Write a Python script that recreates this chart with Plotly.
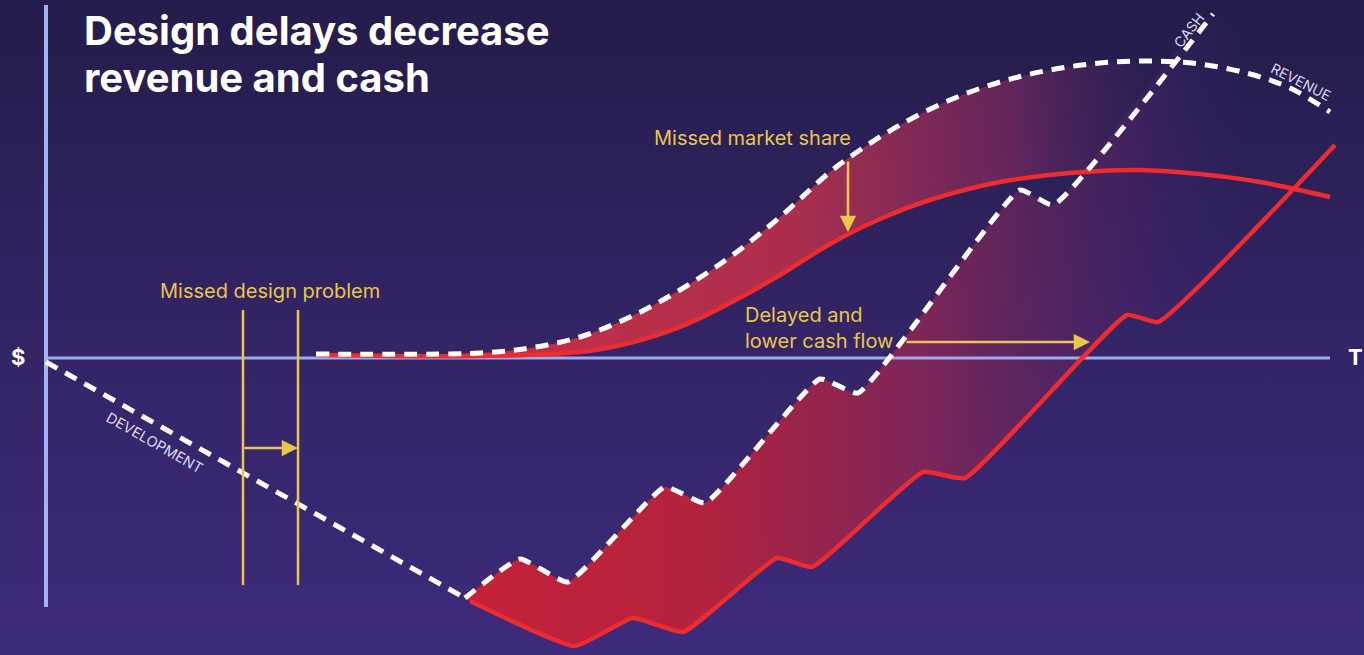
import plotly.graph_objects as go

# Coordinate system: t = time from origin, v = $ value (positive up)
dev_t = [0, 419]
dev_v = [-4, -240]

cash_t = [419, 474, 522, 619, 659, 774, 812, 974, 1007, 1167]
cash_v = [-240, -201, -224, -129, -145, -21, -35, 168, 153, 344]

cash_late_t = [424, 529, 587, 637, 731, 766, 877, 919, 1081, 1112, 1289]
cash_late_v = [-243, -288, -260, -274, -200, -209, -114, -120, 43, 36, 213]

rev_t = [270, 434, 484, 534, 584, 634, 684, 734, 784, 814, 854, 904, 954, 1004, 1054, 1104, 1154, 1204, 1244, 1284]
rev_v = [4, 5, 10, 21, 41, 68, 101, 141, 186, 208, 233, 258, 276, 288, 295, 297, 294, 284, 270, 246]

rev_late_t = [270, 434, 534, 584, 634, 684, 734, 784, 834, 884, 954, 1037, 1094, 1154, 1214, 1284]
rev_late_v = [3, 2, 6, 15, 31, 55, 83, 114, 139, 158, 176, 186, 188, 184, 176, 161]

X_RANGE = [-46, 1318]
Y_RANGE = [-297, 358]

WHITE = "#ffffff"
RED = "#ee2b2e"
YELLOW = "#e9c64d"
AXIS = "#a2b2f6"
DASH = "13px,9px"

fig = go.Figure()

# background gradient
fig.add_trace(go.Scatter(
    x=[X_RANGE[0] - 5, X_RANGE[1] + 5, X_RANGE[1] + 5, X_RANGE[0] - 5],
    y=[Y_RANGE[1] + 5, Y_RANGE[1] + 5, Y_RANGE[0] - 5, Y_RANGE[0] - 5],
    fill="toself", mode="none", hoverinfo="skip",
    fillgradient=dict(type="vertical", start=Y_RANGE[0], stop=Y_RANGE[1],
                      colorscale=[[0, "#3e2a7b"], [0.5, "#332465"], [1, "#241c4b"]]),
))

# revenue gap fill
fig.add_trace(go.Scatter(
    x=rev_t + rev_late_t[::-1], y=rev_v + rev_late_v[::-1],
    fill="toself", mode="none", hoverinfo="skip",
    line=dict(shape="spline", smoothing=1),
    fillgradient=dict(type="horizontal", start=434, stop=1140,
                      colorscale=[[0, "rgba(205,48,68,0.95)"], [0.45, "rgba(185,48,75,0.9)"],
                                  [0.75, "rgba(140,42,95,0.6)"], [1, "rgba(60,35,100,0)"]]),
))

# cash gap fill
fig.add_trace(go.Scatter(
    x=cash_t + cash_late_t[::-1], y=cash_v + cash_late_v[::-1],
    fill="toself", mode="none", hoverinfo="skip",
    line=dict(shape="spline", smoothing=0.4),
    fillgradient=dict(type="horizontal", start=419, stop=1200,
                      colorscale=[[0, "rgba(196,34,58,1)"], [0.3, "rgba(180,34,62,1)"],
                                  [0.6, "rgba(130,38,88,0.9)"], [0.85, "rgba(80,35,100,0.5)"],
                                  [1, "rgba(60,35,110,0)"]]),
))

# axes
fig.add_trace(go.Scatter(x=[0, 0], y=[353, -249], mode="lines",
                         line=dict(color=AXIS, width=4), hoverinfo="skip"))
fig.add_trace(go.Scatter(x=[0, 1284], y=[0, 0], mode="lines",
                         line=dict(color=AXIS, width=3), opacity=0.95, hoverinfo="skip"))

# delayed curves (red)
fig.add_trace(go.Scatter(x=rev_late_t, y=rev_late_v, mode="lines", hoverinfo="skip",
                         line=dict(color=RED, width=4.5, shape="spline", smoothing=1)))
fig.add_trace(go.Scatter(x=cash_late_t, y=cash_late_v, mode="lines", hoverinfo="skip",
                         line=dict(color=RED, width=4.5, shape="spline", smoothing=0.4)))

# ideal curves (white dashed)
fig.add_trace(go.Scatter(x=dev_t, y=dev_v, mode="lines", hoverinfo="skip",
                         line=dict(color=WHITE, width=5, dash=DASH)))
fig.add_trace(go.Scatter(x=rev_t, y=rev_v, mode="lines", hoverinfo="skip",
                         line=dict(color=WHITE, width=5, dash=DASH, shape="spline", smoothing=1)))
fig.add_trace(go.Scatter(x=cash_t, y=cash_v, mode="lines", hoverinfo="skip",
                         line=dict(color=WHITE, width=5, dash=DASH, shape="spline", smoothing=0.4)))

# yellow design-problem markers
for tx in (197, 252):
    fig.add_trace(go.Scatter(x=[tx, tx], y=[48, -227], mode="lines", hoverinfo="skip",
                             line=dict(color=YELLOW, width=2.5)))

annotations = []

def arrow(x0, y0, x1, y1):
    annotations.append(dict(x=x1, y=y1, ax=x0, ay=y0, xref="x", yref="y",
                            axref="x", ayref="y", text="", showarrow=True,
                            arrowhead=2, arrowsize=1.3, arrowwidth=2.5,
                            arrowcolor=YELLOW, standoff=0, startstandoff=0))

arrow(197, -90, 252, -90)
arrow(802, 198, 802, 126)
arrow(859, 16, 1044, 16)

def text(x, y, s, size, color, bold=False, angle=0, xanchor="center", align="center"):
    annotations.append(dict(x=x, y=y, xref="x", yref="y", text=(f"<b>{s}</b>" if bold else s),
                            showarrow=False, textangle=angle, xanchor=xanchor, yanchor="middle",
                            align=align, font=dict(family="Inter", size=size, color=color)))

text(36, 328, "Design delays decrease", 40, WHITE, bold=True, xanchor="left")
text(36, 281, "revenue and cash", 40, WHITE, bold=True, xanchor="left")
text(-28, 1, "$", 22, WHITE, bold=True)
text(1309, 1, "T", 22, WHITE, bold=True)
text(224, 67, "Missed design problem", 20, YELLOW)
text(706, 220, "Missed market share", 20, YELLOW)
text(697, 30, "Delayed and<br>lower cash flow", 20, YELLOW, xanchor="left", align="left")
text(109, -84, "DEVELOPMENT", 14.5, "#ddd8f3", angle=29.5)
text(1142, 328, "CASH", 14, "#ddd8f3", angle=-52)
text(1255, 277, "REVENUE", 14, "#ddd8f3", angle=27)

fig.update_layout(
    width=1364, height=655, margin=dict(l=0, r=0, t=0, b=0),
    paper_bgcolor="#2e2260", plot_bgcolor="#2e2260",
    showlegend=False,
    xaxis=dict(range=X_RANGE, visible=False, fixedrange=True),
    yaxis=dict(range=Y_RANGE, visible=False, fixedrange=True),
    annotations=annotations,
)

fig.write_html("out.html")
